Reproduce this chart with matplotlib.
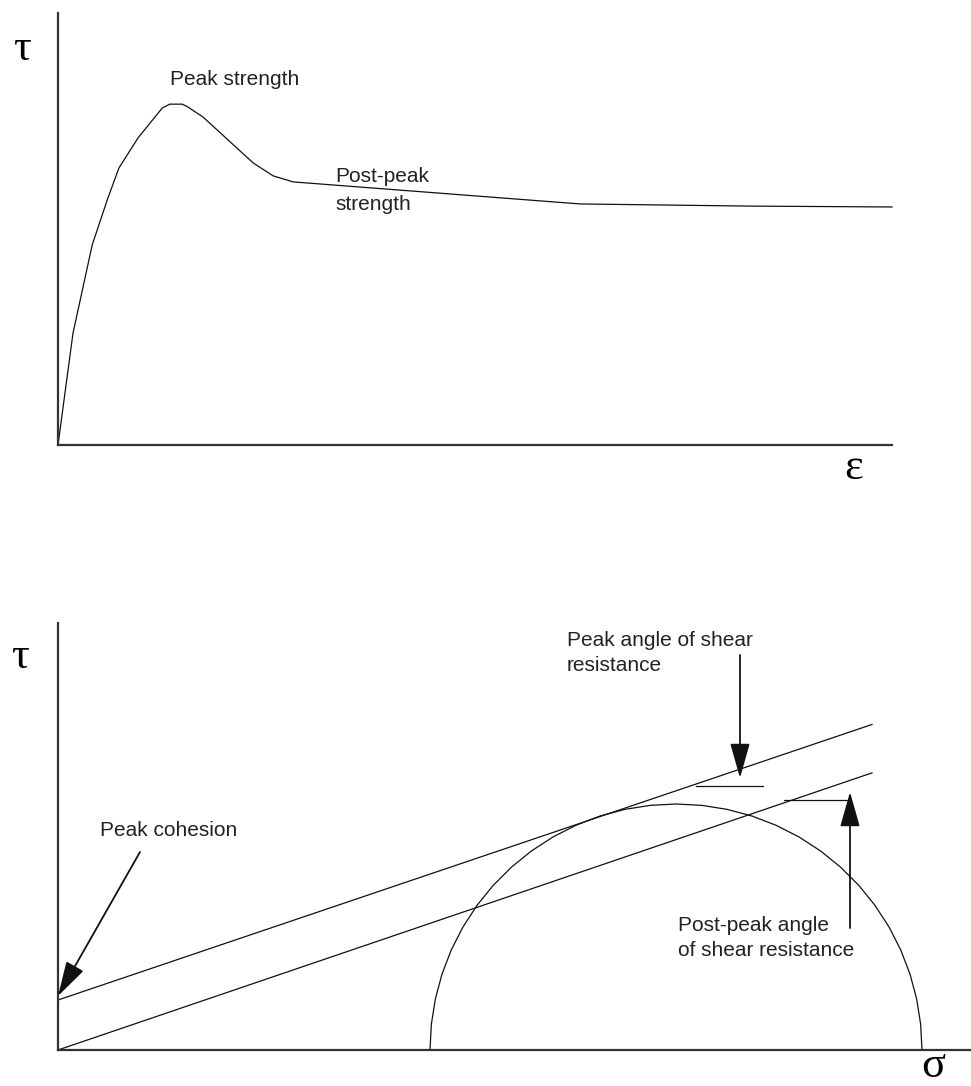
import numpy as np
import matplotlib.pyplot as plt

# shear stress - strain curve (strain and stress in % of axis range)
strain = [0, 1.8, 4.1, 5.9, 7.3, 9.6, 12.5, 13.4, 14.9, 15.6, 17.4, 23.4, 25.8, 28.2, 62.6, 83.0, 100]
stress = [0, 25.9, 46.3, 56.7, 64.1, 71.1, 78.0, 78.9, 78.9, 78.2, 75.9, 65.3, 62.3, 60.9, 55.8, 55.3, 55.1]

# Mohr circle and failure envelopes (arbitrary stress units)
sigma3, sigma1 = 372, 864
peak_cohesion = 50
peak_phi = 18.7        # degrees
post_phi = 18.8        # degrees
envelope_end = 814

LINE = '#111111'
AXIS = '#333333'
SANS = 'Liberation Sans'
SERIF = 'Liberation Serif'

fig = plt.figure(figsize=(9.71, 10.86), dpi=100)

def bare_axes(rect, xlim, ylim):
    ax = fig.add_axes(rect)
    ax.set_xlim(*xlim)
    ax.set_ylim(*ylim)
    for s in ('top', 'right'):
        ax.spines[s].set_visible(False)
    for s in ('left', 'bottom'):
        ax.spines[s].set_linewidth(1.6)
        ax.spines[s].set_color(AXIS)
    ax.set_xticks([])
    ax.set_yticks([])
    ax.patch.set_alpha(0)
    return ax

# --- top: stress-strain
ax1 = bare_axes([58 / 971, 641 / 1086, 834 / 971, 432 / 1086], (0, 100), (0, 100))
ax1.plot(strain, stress, color=LINE, lw=0.9, clip_on=False)
ax1.text(13.4, 84.5, 'Peak strength', fontsize=15, family=SANS, va='center', color='#222222')
ax1.text(33.3, 59.0, 'Post-peak\nstrength', fontsize=15, family=SANS, va='center',
         linespacing=1.6, color='#222222')

fig.text(22 / 971, 1 - 49 / 1086, '\u03c4', fontsize=32, family=SERIF, ha='center', va='center')
fig.text(854 / 971, 1 - 468 / 1086, '\u03b5', fontsize=32, family=SERIF, ha='center', va='center')

# --- bottom: Mohr-Coulomb
ax2 = bare_axes([58 / 971, 36 / 1086, 913 / 971, 427 / 1086], (0, 913), (0, 427))

centre = (sigma1 + sigma3) / 2
radius = (sigma1 - sigma3) / 2
theta = np.linspace(0, np.pi, 31)
ax2.plot(centre + radius * np.cos(theta), radius * np.sin(theta), color=LINE, lw=0.9)

s = np.array([0, envelope_end])
ax2.plot(s, peak_cohesion + s * np.tan(np.radians(peak_phi)), color=LINE, lw=0.9, clip_on=False)
ax2.plot(s, s * np.tan(np.radians(post_phi)), color=LINE, lw=0.9, clip_on=False)

# horizontal reference ticks for the angles
ax2.plot([638, 705], [264, 264], color=LINE, lw=0.9)
ax2.plot([726, 792], [250, 250], color=LINE, lw=0.9)

arrow = dict(arrowstyle='-|>,head_length=0.6,head_width=0.17', mutation_scale=36,
             color=LINE, lw=1.3, shrinkA=0, shrinkB=0)
ax2.annotate('', xy=(682, 272), xytext=(682, 395), arrowprops=arrow)
ax2.annotate('', xy=(792, 258), xytext=(792, 122), arrowprops=arrow)
ax2.annotate('', xy=(0, 54), xytext=(82, 198), arrowprops=arrow, annotation_clip=False)

ax2.text(509, 397, 'Peak angle of shear\nresistance', fontsize=15, family=SANS, va='center',
         linespacing=1.45, color='#222222')
ax2.text(620, 112, 'Post-peak angle\nof shear resistance', fontsize=15, family=SANS, va='center',
         linespacing=1.45, color='#222222')
ax2.text(42, 220, 'Peak cohesion', fontsize=15, family=SANS, va='center', color='#222222')

fig.text(20 / 971, 1 - 657 / 1086, '\u03c4', fontsize=32, family=SERIF, ha='center', va='center')
fig.text(933 / 971, 1 - 1066 / 1086, '\u03c3', fontsize=32, family=SERIF, ha='center', va='center')

fig.savefig('out.png', dpi=100, facecolor='white')
